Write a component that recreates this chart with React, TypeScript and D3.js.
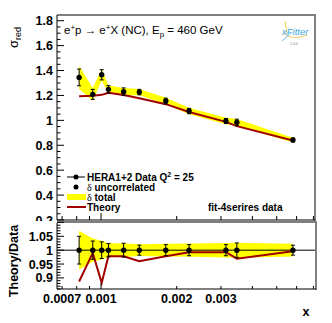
import React from "react";
import * as d3 from "d3";

// HERA1+2 NC e+p, Q2 = 25, Ep = 460 GeV
const xVals = [0.000818, 0.000927, 0.001006, 0.00107, 0.00123, 0.00142, 0.00181, 0.00224, 0.00314, 0.00347, 0.0058];
const sigma = [1.345, 1.209, 1.366, 1.249, 1.23, 1.227, 1.155, 1.075, 0.995, 0.984, 0.842];
const theory = [1.193, 1.197, 1.205, 1.222, 1.203, 1.178, 1.13, 1.067, 0.988, 0.954, 0.839];
const uncRel = [0.05, 0.033, 0.03, 0.024, 0.025, 0.018, 0.02, 0.02, 0.02, 0.026, 0.018];
const totRel = [0.07, 0.042, 0.034, 0.025, 0.025, 0.021, 0.023, 0.024, 0.026, 0.027, 0.023];

const topTicks = [0.2, 0.4, 0.6, 0.8, 1, 1.2, 1.4, 1.6, 1.8];
const ratioTicks = [0.9, 0.95, 1, 1.05];
const xTicks = [0.0007, 0.0008, 0.0009, 0.001, 0.002, 0.003, 0.004, 0.005, 0.006, 0.007];
const xLabels = ["0.0007", "0.001", "0.002", "0.003"];

const W = 332;
const H = 323;
const L = 57;
const R = 315;
const FONT = "'Liberation Sans', Arial, Helvetica, sans-serif";
const RED = "#a00000";
const YEL = "#ffff00";
const FRAME = "#808080";

export default function App() {
  const x = d3.scaleLog().domain([0.000668, 0.0071]).range([L, R]);
  const yTop = d3.scaleLinear().domain([0.2, 1.846]).range([220, 15]);
  const yBot = d3.scaleLinear().domain([0.86, 1.098]).range([289, 223]);

  const pts = xVals.map((xv, i) => ({
    x: xv,
    s: sigma[i],
    th: theory[i],
    unc: uncRel[i],
    tot: totRel[i],
    r: theory[i] / sigma[i],
  }));

  const bandTop = d3
    .area<any>()
    .x((d) => x(d.x))
    .y0((d) => yTop(d.s * (1 - d.tot)))
    .y1((d) => yTop(d.s * (1 + d.tot)));
  const lineTop = d3
    .line<any>()
    .x((d) => x(d.x))
    .y((d) => yTop(d.th));
  const bandBot = d3
    .area<any>()
    .x((d) => x(d.x))
    .y0((d) => yBot(1 - d.tot))
    .y1((d) => yBot(1 + d.tot));
  const lineBot = d3
    .line<any>()
    .x((d) => x(d.x))
    .y((d) => yBot(d.r));

  const topMinor = d3.range(0.2, 1.85, 0.05);
  const botMinor = d3.range(0.86, 1.1, 0.01);

  const tickLab = { fontFamily: FONT, fontWeight: 700, fontSize: 12.5 } as const;

  return (
    <svg
      width={W}
      height={H}
      style={{ position: "absolute", left: 0, top: 0, background: "#fff" }}
    >
      {/* upper pad */}
      <path d={bandTop(pts) || ""} fill={YEL} />
      <path d={lineTop(pts) || ""} fill="none" stroke={RED} strokeWidth={2} />
      {pts.map((d, i) => {
        const cx = x(d.x);
        const y0 = yTop(d.s * (1 - d.unc));
        const y1 = yTop(d.s * (1 + d.unc));
        return (
          <g key={i}>
            <line x1={cx} x2={cx} y1={y0} y2={y1} stroke="#000" />
            <line x1={cx - 2} x2={cx + 2} y1={y0} y2={y0} stroke="#000" />
            <line x1={cx - 2} x2={cx + 2} y1={y1} y2={y1} stroke="#000" />
            <circle cx={cx} cy={yTop(d.s)} r={2.7} fill="#000" />
          </g>
        );
      })}

      {/* frame of upper pad */}
      <line x1={L} x2={R + 1} y1={15} y2={15} stroke={FRAME} strokeWidth={2} />
      <line x1={R} x2={R} y1={14} y2={221} stroke={FRAME} strokeWidth={2} />
      <line x1={L} x2={L} y1={15} y2={220} stroke="#000" />
      <line x1={L} x2={R} y1={220} y2={220} stroke="#000" />
      {topMinor.map((v, i) => {
        const major = Math.abs(Math.round(v * 5) - v * 5) < 1e-6;
        return (
          <line key={i} x1={L} x2={L + (major ? 7 : 3.5)} y1={yTop(v)} y2={yTop(v)} stroke="#000" />
        );
      })}
      {xTicks.map((v, i) => (
        <line key={i} x1={x(v)} x2={x(v)} y1={220} y2={v === 0.001 ? 213 : 216} stroke="#000" />
      ))}
      {topTicks.map((v) => (
        <text key={v} x={53} y={yTop(v)} dy="0.36em" textAnchor="end" {...tickLab}>
          {String(v)}
        </text>
      ))}

      {/* y title */}
      <text transform="translate(18,48) rotate(-90)" fontFamily={FONT} fontSize={13}>
        σ<tspan fontSize={9} dy={3}>red</tspan>
      </text>

      {/* title */}
      <text x={64} y={34} fontFamily={FONT} fontSize={11.5}>
        e<tspan fontSize={8} dy={-4}>+</tspan>
        <tspan dy={4}>p → e</tspan>
        <tspan fontSize={8} dy={-4}>+</tspan>
        <tspan dy={4}>X (NC), E</tspan>
        <tspan fontSize={8} dy={3}>p</tspan>
        <tspan dy={-3}> = 460 GeV</tspan>
      </text>

      {/* xFitter logo */}
      <g>
        <line x1={285} y1={21} x2={287} y2={33} stroke="#e8c020" strokeWidth={0.8} />
        <path d="M283 33 Q 292 41 307 35" fill="none" stroke="#f0c040" strokeWidth={0.8} />
        <line x1={282} y1={41} x2={291} y2={33} stroke="#4aa8e0" strokeWidth={0.8} />
        <text x={282} y={35} fontFamily={FONT} fontStyle="italic" fontSize={9.5} fill="#3ba6e0">
          xFitter
        </text>
        <text x={290} y={45} fontFamily={FONT} fontSize={3.5} fill="#777">
          1.0.0
        </text>
      </g>

      {/* legend */}
      <g fontFamily={FONT} fontWeight={700} fontSize={10}>
        <line x1={67} x2={85} y1={177} y2={177} stroke="#000" />
        <circle cx={76} cy={177} r={2.5} fill="#000" />
        <text x={87} y={177} dy="0.35em">
          HERA1+2 Data Q<tspan fontSize={7} dy={-4}>2</tspan>
          <tspan dy={4}> = 25</tspan>
        </text>
        <circle cx={76} cy={187} r={2.5} fill="#000" />
        <text x={87} y={187} dy="0.35em">
          <tspan fontFamily="'Liberation Serif', serif" fontWeight={400}>δ</tspan> uncorrelated
        </text>
        <rect x={67} y={194} width={19} height={6} fill={YEL} />
        <text x={87} y={197} dy="0.35em">
          <tspan fontFamily="'Liberation Serif', serif" fontWeight={400}>δ</tspan> total
        </text>
        <line x1={67} x2={86} y1={207} y2={207} stroke={RED} strokeWidth={2} />
        <text x={87} y={207} dy="0.35em">
          Theory
        </text>
        <text x={208} y={211}>fit-4serires data</text>
      </g>

      {/* lower pad */}
      <rect x={0} y={221} width={W} height={H - 221} fill="#fff" />
      <line x1={L} x2={R + 1} y1={222} y2={222} stroke={FRAME} strokeWidth={2} />
      <path d={bandBot(pts) || ""} fill={YEL} />
      <line x1={L} x2={R} y1={yBot(1)} y2={yBot(1)} stroke="#000" />
      <path d={lineBot(pts) || ""} fill="none" stroke={RED} strokeWidth={2} />
      {pts.map((d, i) => {
        const cx = x(d.x);
        const y0 = yBot(1 - d.unc);
        const y1 = yBot(1 + d.unc);
        return (
          <g key={i}>
            <line x1={cx} x2={cx} y1={y0} y2={y1} stroke="#000" />
            <line x1={cx - 2} x2={cx + 2} y1={y0} y2={y0} stroke="#000" />
            <line x1={cx - 2} x2={cx + 2} y1={y1} y2={y1} stroke="#000" />
            <circle cx={cx} cy={yBot(1)} r={2.7} fill="#000" />
          </g>
        );
      })}
      <line x1={R + 1} x2={R + 1} y1={221} y2={290} stroke={FRAME} strokeWidth={2} />
      <line x1={L} x2={L} y1={223} y2={289} stroke="#000" />
      <line x1={L} x2={R + 1} y1={289} y2={289} stroke="#000" />
      {botMinor.map((v, i) => {
        const major = Math.abs(Math.round(v * 20) - v * 20) < 1e-6;
        return (
          <line key={i} x1={L} x2={L + (major ? 7 : 3.5)} y1={yBot(v)} y2={yBot(v)} stroke="#000" />
        );
      })}
      {xTicks.map((v, i) => (
        <line key={i} x1={x(v)} x2={x(v)} y1={289} y2={v === 0.001 ? 283 : 286} stroke="#000" />
      ))}
      {ratioTicks.map((v) => (
        <text key={v} x={53} y={yBot(v)} dy="0.36em" textAnchor="end" {...tickLab}>
          {String(v)}
        </text>
      ))}
      {xLabels.map((s) => (
        <text key={s} x={x(+s)} y={303} textAnchor="middle" {...tickLab}>
          {s}
        </text>
      ))}
      <text x={306} y={316} textAnchor="middle" fontFamily={FONT} fontWeight={700} fontSize={12.5}>
        x
      </text>
      <text
        transform="translate(18,261) rotate(-90)"
        textAnchor="middle"
        fontFamily={FONT}
        fontWeight={700}
        fontSize={12.5}
      >
        Theory/Data
      </text>
    </svg>
  );
}
